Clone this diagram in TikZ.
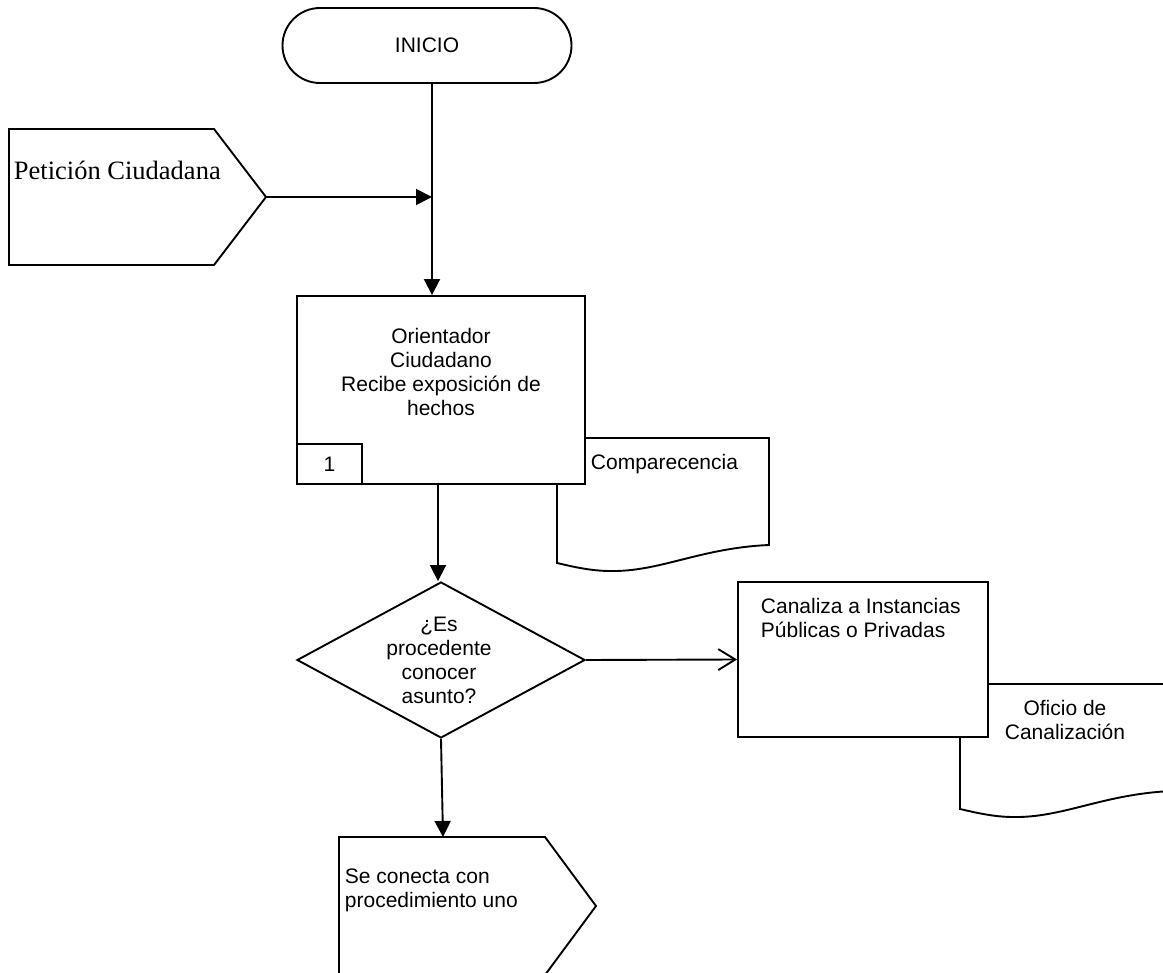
\documentclass[tikz,border=0pt]{standalone}
\usepackage{fontspec}
\setmainfont{Liberation Serif}
\newfontfamily\arialf{Liberation Sans}
\usetikzlibrary{arrows.meta,shapes.geometric,shapes.misc}
\begin{document}
\begin{tikzpicture}[x=1pt,y=-1pt,line width=1.9pt,
  box/.style={draw,fill=white,rectangle,inner sep=0pt},
  txt/.style={font=\arialf\fontsize{21}{24}\selectfont,inner sep=0pt},
  arr/.style={-{Triangle[length=16pt,width=16pt]}},
  oarr/.style={-{Straight Barb[length=17pt,width=21pt]}},
  docshape/.pic={\draw[fill=white] (0,0) -- (212,0) -- (212,107)
     .. controls (143,110) and (103,134) .. (53,133)
     .. controls (33,133) and (13,128) .. (0,125) -- cycle;}]
\useasboundingbox (0,0) rectangle (1163,973);
\clip (0,0) rectangle (1163,973);

% terminator
\node[draw,fill=white,rounded rectangle,minimum width=289pt,minimum height=75pt,inner sep=0pt,txt] (inicio) at (427,45.5) {INICIO};

% Peticion input shape
\draw[fill=white] (9,129) -- (214,129) -- (266,197) -- (214,265) -- (9,265) -- cycle;
\coordinate (pettip) at (266,197);
\node[anchor=base west,inner sep=0pt,font=\fontsize{26.5}{30}\selectfont] (pettxt) at (13,180) {Petición Ciudadana};
\coordinate (j) at (432,197);

% documents (behind boxes)
\pic (doc1) at (557,438) {docshape};
\pic (doc2) at (960,684) {docshape};

% process box
\node[box,minimum width=288pt,minimum height=188pt] (orient) at (441,390) {};
\node[txt,align=center,anchor=north] (orienttxt) at (441,327) {Orientador\\Ciudadano\\Recibe exposición de\\hechos};
\node[box,txt,minimum width=65pt,minimum height=40pt] (one) at (329.5,464) {1};
\node[txt,anchor=base west] (comptxt) at (590,470) {Comparecencia};

% decision
\node[draw,fill=white,diamond,inner sep=0pt,minimum width=288pt,minimum height=156pt] (dia) at (441,660) {};
\node[txt,align=center,anchor=north] (diatxt) at (439,616) {¿Es\\procedente\\conocer\\asunto?};

% canaliza box
\node[box,minimum width=250pt,minimum height=155pt] (can) at (863,659.5) {};
\node[txt,align=left,anchor=north west] (cantxt) at (760,597) {Canaliza a Instancias\\Públicas o Privadas};
\node[txt,align=center,anchor=north] (oftxt) at (1065,699.5) {Oficio de\\Canalización};

% off-page connector
\draw[fill=white] (339,837) -- (545,837) -- (596,906) -- (545,975) -- (339,975) -- cycle;
\coordinate (contop) at (443,837);
\node[txt,align=left,anchor=north west] (contxt) at (344,868) {Se conecta con\\procedimiento uno};

% connectors
\draw[arr] (j |- inicio.south) -- (j |- orient.north);
\draw[arr] (pettip) -- (j);
\draw[arr] ([xshift=-3pt]orient.south) -- ([xshift=-3pt]dia.north);
\draw[oarr] (dia.east) -- (can.west);
\draw[arr] (dia.south) -- (contop);
\end{tikzpicture}
\end{document}
